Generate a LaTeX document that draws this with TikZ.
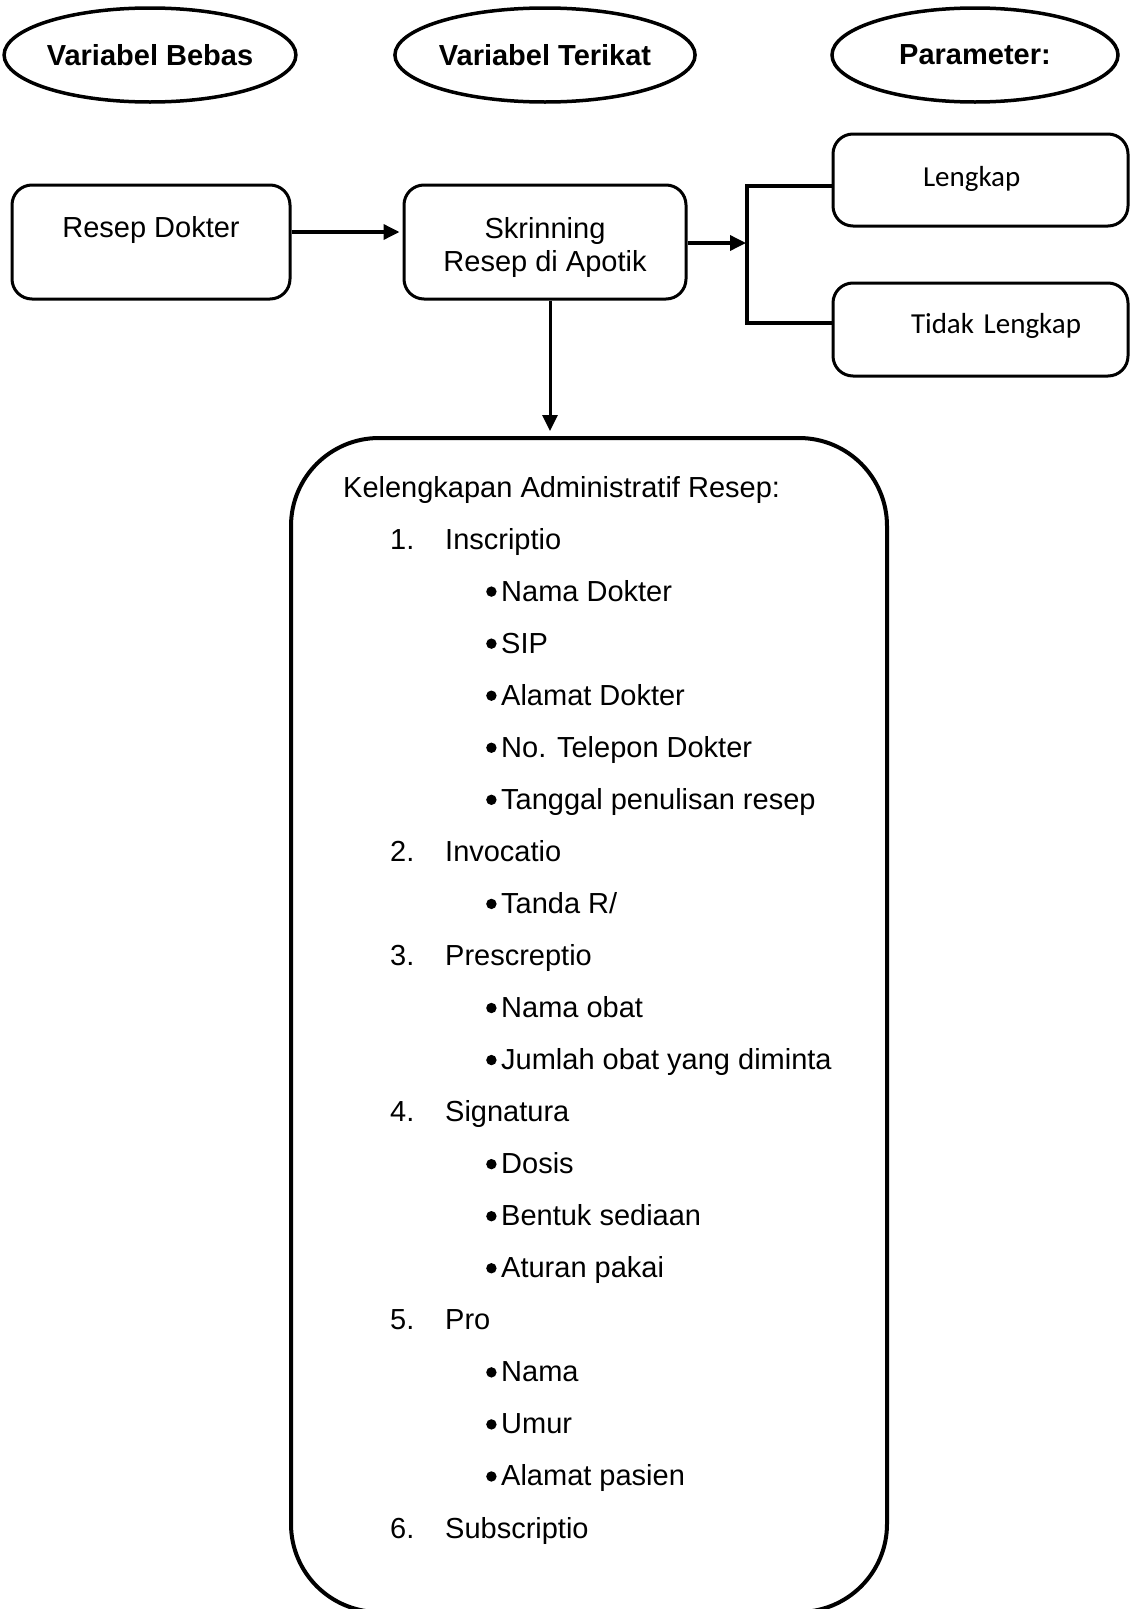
\documentclass[tikz,border=0pt]{standalone}
\usepackage{fontspec}
\setmainfont{Liberation Sans}
\newfontfamily\calibri{Carlito}
\usetikzlibrary{shapes.geometric, arrows.meta, positioning, calc}
\newcommand{\listnum}[2]{\makebox[55pt][l]{#1}#2}
\newcommand{\listdot}{\tikz[baseline=0pt]\fill (5.2pt,9.5pt) circle[radius=5.2pt];\hspace{4.6pt}}

\begin{document}
\begin{tikzpicture}[
    x=1pt, y=-1pt,
    font=\fontsize{29}{33}\selectfont,
    varnode/.style={
        ellipse, draw, line width=3.5pt,
        minimum width=280pt, minimum height=94pt, inner sep=0pt,
        font=\fontsize{29}{33}\selectfont\bfseries
    },
    infobox/.style={
        rectangle, rounded corners=20pt, draw, line width=3pt,
        inner sep=0pt, minimum width=278pt, align=center
    },
    resultbox/.style={
        rectangle, rounded corners=20pt, draw, line width=3pt,
        inner sep=0pt, text width=295pt, align=left,
        font=\calibri\fontsize{29}{33}\selectfont
    },
    adminbox/.style={
        rectangle, rounded corners=88pt, draw, line width=4pt,
        minimum width=596pt, minimum height=1174pt
    },
    listitem/.style={anchor=base west, inner sep=0pt},
    arrow/.style={-{Triangle[length=16pt, width=15pt]}, line width=3.5pt},
    bracket/.style={line width=3.5pt}
]

\useasboundingbox (0,0) rectangle (1132,1609);

% header ellipses
\node[varnode] (bebas) at (150,55) {Variabel Bebas};
\node[varnode, minimum width=283pt] (terikat) at (545,55) {Variabel Terikat};
\node[varnode, minimum width=286pt] (param) at (975,55) {Parameter:};

% process boxes
\node[infobox, text height=52pt, text depth=62pt] (resep) at (151,242) {Resep Dokter};
\node[infobox, minimum width=282pt, text height=53pt, text depth=61pt] (skrin) at (545,242)
    {\begin{tabular}[t]{@{}c@{}}Skrinning\\Resep di Apotik\end{tabular}};

% parameter boxes
\node[resultbox, text height=52pt, text depth=40pt] (lengkap) at (980.5,180) {\hspace*{90pt}Lengkap};
\node[resultbox, text height=50pt, text depth=43pt] (tidak) at (980.5,329.5) {\hspace*{78pt}Tidak Lengkap};

% administrative checklist
\node[adminbox] (admin) at (589,1025) {};

\foreach \px/\txt [count=\i] in {
    343/{Kelengkapan Administratif Resep:},
    390/{\listnum{1.}{Inscriptio}},
    486/{\listdot Nama Dokter},
    486/{\listdot SIP},
    486/{\listdot Alamat Dokter},
    486/{\listdot No. Telepon Dokter},
    486/{\listdot Tanggal penulisan resep},
    390/{\listnum{2.}{Invocatio}},
    486/{\listdot Tanda R/},
    390/{\listnum{3.}{Prescreptio}},
    486/{\listdot Nama obat},
    486/{\listdot Jumlah obat yang diminta},
    390/{\listnum{4.}{Signatura}},
    486/{\listdot Dosis},
    486/{\listdot Bentuk sediaan},
    486/{\listdot Aturan pakai},
    390/{\listnum{5.}{Pro}},
    486/{\listdot Nama},
    486/{\listdot Umur},
    486/{\listdot Alamat pasien},
    390/{\listnum{6.}{Subscriptio}}
}
    \node[listitem] (item\i) at (\px, {497+52.05*(\i-1)}) {\txt};

% connectors
\coordinate (split) at (747,243);
\draw[arrow, shorten >=3pt] ([yshift=10pt]resep.east) -- ([yshift=10pt]skrin.west);
\draw[arrow, shorten >=1pt] ([yshift=-1pt]skrin.east) -- (split);
\draw[bracket] ([yshift=-6pt]lengkap.west) -| (split) |- ([yshift=6.5pt]tidak.west);
\draw[arrow, line width=3pt, shorten >=5pt] ($(skrin.south)+(5,0)$) -- ($(skrin.south |- admin.north)+(5,0)$);

\end{tikzpicture}
\end{document}
